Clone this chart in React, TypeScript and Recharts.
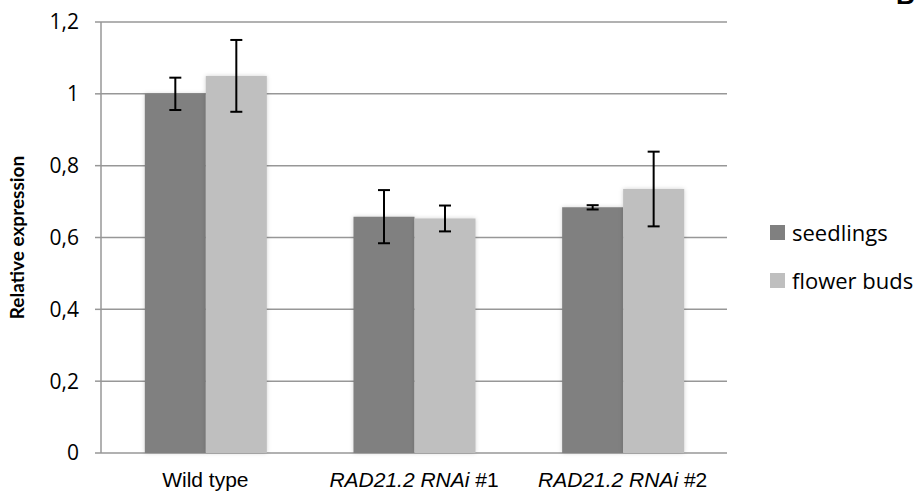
import { Bar, BarChart, CartesianGrid, ErrorBar, XAxis, YAxis } from "recharts"

const groups = ["Wild type", "RAD21.2 RNAi #1", "RAD21.2 RNAi #2"]
const seedlings = [1.0, 0.658, 0.684]
const seedlingsErr = [0.045, 0.074, 0.006]
const flowerBuds = [1.05, 0.653, 0.735]
const flowerBudsErr = [0.1, 0.036, 0.104]
const yTicks = [0, 0.2, 0.4, 0.6, 0.8, 1, 1.2]

const data = groups.map((name, i) => ({
  name,
  seedlings: seedlings[i],
  seedlingsErr: seedlingsErr[i],
  flowerBuds: flowerBuds[i],
  flowerBudsErr: flowerBudsErr[i],
}))

const DARK = "#808080"
const LIGHT = "#bfbfbf"
const GRID = "#979797"
const BODY_FONT = "'Open Sans', Lato, sans-serif"

// category label, with the line name in italics and the "#n" upright
function GroupTick(props: any) {
  const { x, y, payload } = props
  const label: string = payload.value
  const m = label.match(/^(.*?)(#\d+)$/)
  return (
    <text
      x={x}
      y={y + 26}
      textAnchor="middle"
      fontFamily="'Liberation Sans', Arial, sans-serif"
      fontSize={21}
      fill="#000"
    >
      {m ? (
        <>
          <tspan fontStyle="italic">{m[1]}</tspan>
          <tspan>{m[2]}</tspan>
        </>
      ) : (
        label
      )}
    </text>
  )
}

function LegendBox() {
  const items = [
    { label: "seedlings", color: DARK },
    { label: "flower buds", color: LIGHT },
  ]
  return (
    <div style={{ fontFamily: BODY_FONT, fontSize: 22, color: "#000" }}>
      {items.map((it) => (
        <div key={it.label} style={{ display: "flex", alignItems: "center", height: 48 }}>
          <span
            style={{
              display: "inline-block",
              width: 15,
              height: 15,
              background: it.color,
              marginRight: 7,
            }}
          />
          <span>{it.label}</span>
        </div>
      ))}
    </div>
  )
}

export default function App() {
  return (
    <div style={{ position: "absolute", left: 0, top: 0, width: 922, height: 491, background: "#fff", overflow: "hidden" }}>
      <style>{`.recharts-bar-rectangle path { filter: drop-shadow(0 0 2px rgba(0,0,0,0.18)); }`}</style>
      <BarChart
        width={922}
        height={491}
        data={data}
        margin={{ top: 22, right: 195, bottom: 0, left: 0 }}
        barCategoryGap="21%"
        barGap={0}
      >
        <CartesianGrid vertical={false} stroke={GRID} strokeWidth={1.5} />
        <XAxis
          xAxisId="edge"
          type="number"
          domain={[0, 3]}
          ticks={[0, 1, 2, 3]}
          tickFormatter={() => ""}
          height={0}
          stroke={GRID}
          strokeWidth={1.5}
          tickSize={7}
        />
        <XAxis
          dataKey="name"
          tickLine={false}
          axisLine={false}
          height={38}
          interval={0}
          tick={<GroupTick />}
        />
        <YAxis
          domain={[0, 1.2]}
          ticks={yTicks}
          interval={0}
          width={101}
          stroke={GRID}
          strokeWidth={1.5}
          tickSize={6}
          tickMargin={16}
          tick={{ fill: "#000", fontSize: 21, fontFamily: BODY_FONT }}
          tickFormatter={(v: number) => String(v).replace(".", ",")}
          label={{
            value: "Relative expression",
            angle: -90,
            position: "insideLeft",
            dx: 12,
            style: { fontWeight: 700, fontSize: 19, fill: "#000", fontFamily: "Lato, sans-serif", textAnchor: "middle" },
          }}
        />
        <Bar dataKey="seedlings" name="seedlings" fill={DARK} isAnimationActive={false}>
          <ErrorBar dataKey="seedlingsErr" width={6} stroke="#000" strokeWidth={2} />
        </Bar>
        <Bar dataKey="flowerBuds" name="flower buds" fill={LIGHT} isAnimationActive={false}>
          <ErrorBar dataKey="flowerBudsErr" width={6} stroke="#000" strokeWidth={2} />
        </Bar>
      </BarChart>
      <div style={{ position: "absolute", left: 770, top: 208 }}>
        <LegendBox />
      </div>
      <div
        style={{
          position: "absolute",
          left: 896,
          top: -20,
          fontFamily: "'Liberation Sans', Arial, sans-serif",
          fontWeight: 700,
          fontSize: 26,
          lineHeight: "30px",
          color: "#000",
        }}
      >
        B
      </div>
    </div>
  )
}
